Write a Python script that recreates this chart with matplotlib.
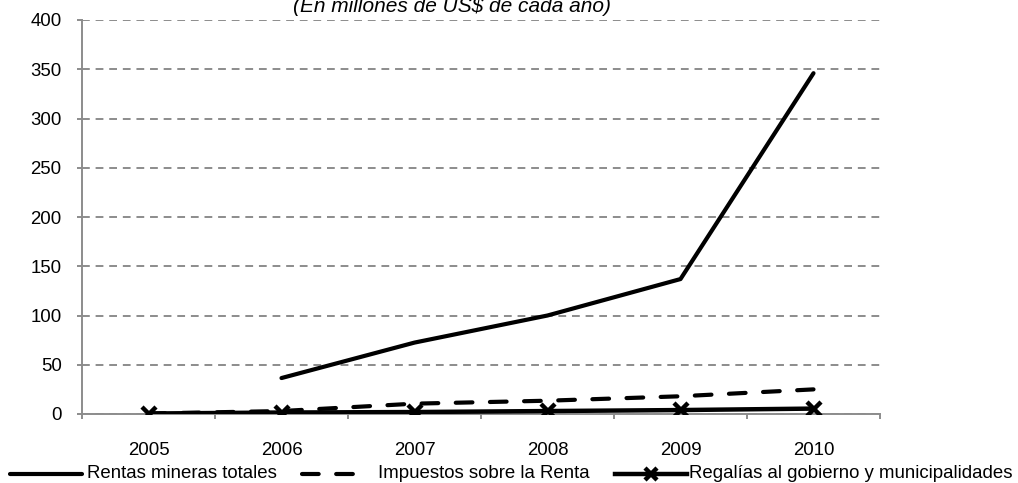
import numpy as np
import matplotlib
matplotlib.use("Agg")
import matplotlib.pyplot as plt
from matplotlib.lines import Line2D

plt.rcParams['font.family'] = ['Liberation Sans', 'DejaVu Sans']

years = ["2005", "2006", "2007", "2008", "2009", "2010"]
rentas_totales = [np.nan, 36.5, 72.5, 100.0, 137.0, 346.0]
impuestos_renta = [0.5, 3.0, 10.5, 13.5, 18.0, 25.0]
regalias = [0.5, 1.5, 2.0, 3.0, 4.0, 5.5]

labels = ["Rentas mineras totales", "Impuestos sobre la Renta",
          "Regalías al gobierno y municipalidades"]

grid_color = "#8c8c8c"
fs = 13.4
W, H = 1018, 483

fig = plt.figure(figsize=(W / 100, H / 100), dpi=100)
ax = fig.add_axes([82 / W, 1 - 414 / H, (880 - 82) / W, (414 - 20) / H])

x = np.arange(len(years))
styles = [
    dict(color="black", lw=3.0, solid_capstyle="round"),
    dict(color="black", lw=3.0, dashes=(4.0, 4.2), dash_capstyle="round"),
    dict(color="black", lw=3.2, marker="x", markersize=10.5, markeredgewidth=3.2),
]
for vals, lab, st in zip([rentas_totales, impuestos_renta, regalias], labels, styles):
    ax.plot(x, vals, label=lab, zorder=3, **st)

ax.set_xlim(-0.5, len(years) - 0.5)
ax.set_ylim(0, 400)
ax.set_yticks(np.arange(0, 401, 50))
ax.set_xticks(x)
ax.set_xticklabels(years)
ax.set_xticks(np.arange(-0.5, len(years), 1.0), minor=True)

for s in ["top", "right"]:
    ax.spines[s].set_visible(False)
for s in ["left", "bottom"]:
    ax.spines[s].set_color(grid_color)
    ax.spines[s].set_linewidth(1.4)

ax.yaxis.grid(True, color=grid_color, linestyle=(0, (4, 3)), linewidth=1.4)
ax.set_axisbelow(True)

ax.tick_params(axis="y", length=3.6, width=1.4, color=grid_color, labelsize=fs, pad=11)
ax.tick_params(axis="x", which="major", length=0, labelsize=fs, pad=20)
ax.tick_params(axis="x", which="minor", length=3.6, width=1.4, color=grid_color)

fig.text(452 / W, 1 - 12 / H, "(En millones de US$ de cada año)", style="italic",
         fontsize=15, ha="center", va="baseline")

# Legend row along the bottom edge
ly = 1 - 474 / H
legend_spots = [(10, 82, 87), (302, 358, 378), (615, 687, 689)]
for (x0, x1, tx), lab, st in zip(legend_spots, labels, styles):
    st = dict(st)
    has_marker = "marker" in st
    if has_marker:
        mk = dict(marker=st.pop("marker"), markersize=st.pop("markersize") * 0.85,
                  markeredgewidth=st.pop("markeredgewidth"))
    ln = Line2D([x0 / W, x1 / W], [ly, ly], transform=fig.transFigure, **st)
    fig.add_artist(ln)
    if has_marker:
        fig.add_artist(Line2D([(x0 + x1) / 2 / W], [ly], transform=fig.transFigure,
                              color="black", linestyle="none", **mk))
    fig.text(tx / W, ly, lab, fontsize=fs, ha="left", va="center")

fig.savefig("out.png", dpi=100)
